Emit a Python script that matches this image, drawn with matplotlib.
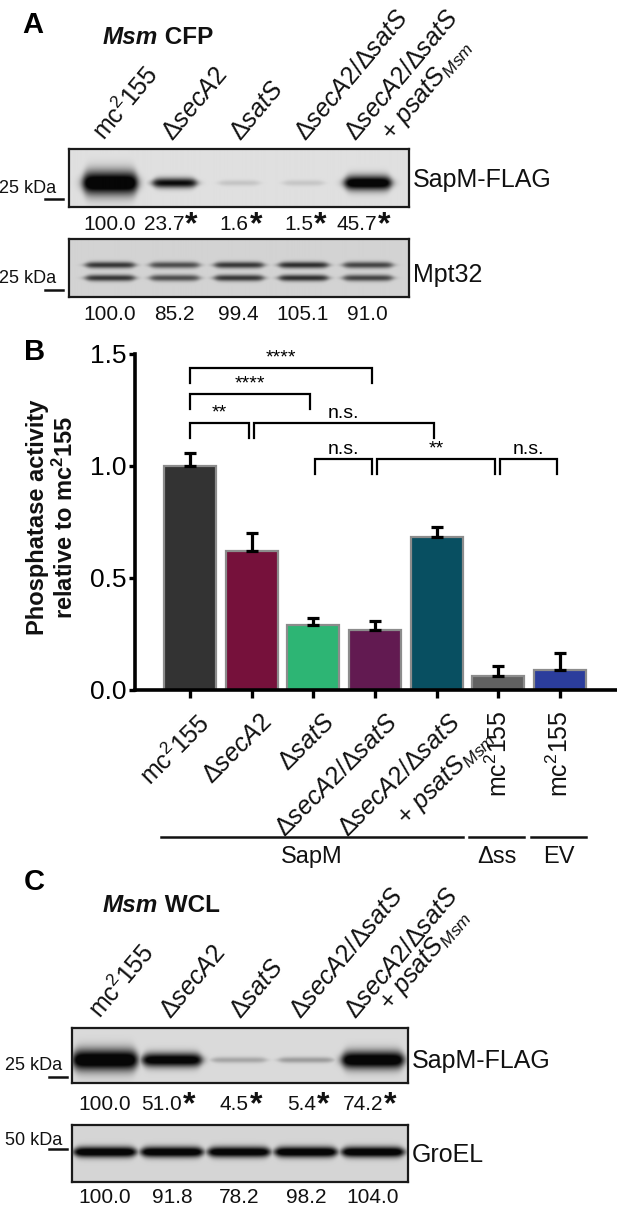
import numpy as np
import matplotlib
matplotlib.use("Agg")
import matplotlib.pyplot as plt
from matplotlib.lines import Line2D
from matplotlib.colors import LinearSegmentedColormap

plt.rcParams['font.family'] = ['Liberation Sans', 'DejaVu Sans']
plt.rcParams['mathtext.fontset'] = 'custom'
plt.rcParams['mathtext.rm'] = 'Liberation Sans'
plt.rcParams['mathtext.it'] = 'Liberation Sans:italic'
plt.rcParams['mathtext.bf'] = 'Liberation Sans:bold'

# ---------------- data ----------------
strain_labels = [r"mc$^{2}$155", r"$\Delta\mathit{secA2}$", r"$\Delta\mathit{satS}$",
                 r"$\Delta\mathit{secA2/}\Delta\mathit{satS}$", r"$\Delta\mathit{secA2/}\Delta\mathit{satS}$"]
complement_label = r"+ $\mathit{psatS}_{\mathit{Msm}}$"

cfp_sapm = [100.0, 23.7, 1.6, 1.5, 45.7]
cfp_sapm_sig = [False, True, True, True, True]
cfp_mpt32 = [100.0, 85.2, 99.4, 105.1, 91.0]
wcl_sapm = [100.0, 51.0, 4.5, 5.4, 74.2]
wcl_sapm_sig = [False, True, True, True, True]
wcl_groel = [100.0, 91.8, 78.2, 98.2, 104.0]

activity_labels = strain_labels + [r"mc$^{2}$155", r"mc$^{2}$155"]
activity_mean = [1.0, 0.622, 0.29, 0.268, 0.684, 0.062, 0.089]
activity_sem = [0.059, 0.080, 0.030, 0.041, 0.045, 0.045, 0.077]
activity_colors = ['#333333', '#76113B', '#2DB574', '#621A51', '#084F61', '#616161', '#2B3D9C']
groups = [('SapM', 0, 4), ('\u0394ss', 5, 5), ('EV', 6, 6)]
comparisons = [(0, 3, '****'), (0, 2, '****'), (0, 1, '**'), (1, 4, 'n.s.'),
               (2, 3, 'n.s.'), (3, 5, '**'), (5, 6, 'n.s.')]

# ---------------- layout helpers ----------------
W, H = 617, 1209
fig = plt.figure(figsize=(W / 100, H / 100), dpi=100)
PT = 0.72  # points per pixel


def T(x, y, s, **kw):
    return fig.text(x / W, 1 - y / H, s, **kw)


def hline(x0, x1, y, lw=1.6):
    fig.add_artist(Line2D([x0 / W, x1 / W], [1 - y / H, 1 - y / H], color='#111111',
                          lw=lw, transform=fig.transFigure))


def add_ax(x0, y0, x1, y1):
    return fig.add_axes([x0 / W, 1 - y1 / H, (x1 - x0) / W, (y1 - y0) / H])


def draw_blot(box, lane0, spacing, band_list, bg):
    x0, y0, x1, y1 = box
    ax = add_ax(x0, y0, x1, y1)
    xl = ((x0 - lane0) / spacing, (x1 - lane0) / spacing)
    hpx = y1 - y0
    nx, ny = int((x1 - x0) * 3), int(hpx * 3)
    X, Y = np.meshgrid(np.linspace(xl[0], xl[1], nx), np.linspace(0, hpx, ny))
    D = np.zeros_like(X)
    for lane, ypos, thick, halfw, peak in band_list:
        xprof = 1 / (1 + np.exp((np.abs(X - lane) - halfw) / 0.035))
        t = thick * (0.55 + 0.45 * xprof)
        yprof = np.exp(-0.5 * ((Y - ypos) / (t / 2.355)) ** 2)
        D = np.maximum(D, peak * xprof * yprof)
    D = np.clip(D * 1.25, 0, 1)
    cmap = LinearSegmentedColormap.from_list('blot', [bg, '#060606'])
    ax.imshow(D, cmap=cmap, vmin=0, vmax=1, origin='lower', aspect='auto',
              extent=[xl[0], xl[1], 0, hpx], interpolation='bilinear')
    ax.set_xlim(*xl)
    ax.set_ylim(0, hpx)
    ax.set_xticks([])
    ax.set_yticks([])
    for s in ax.spines.values():
        s.set_linewidth(1.6)
        s.set_color('#1a1a1a')
    return ax


def sapm_bands(vals, ypos, tmax, hw0, hwk, k):
    out = []
    for i, v in enumerate(vals):
        t = max(5.0, tmax * (v / 100.0) ** 0.6)
        out.append((i, ypos, t, hw0 + hwk * min(v, 100) / 100.0, 1 - np.exp(-v / k)))
    return out


def number_row(lanes, vals, sig, base_y, fs=15):
    for x, v, s in zip(lanes, vals, sig):
        if s:
            T(x + 10, base_y, f"{v:.1f}", fontsize=fs, ha='right', va='baseline', color='#111111')
            T(x + 11, base_y + 3, '*', fontsize=23, fontweight='bold',
              ha='left', va='baseline', color='#111111')
        else:
            T(x, base_y, f"{v:.1f}", fontsize=fs, ha='center', va='baseline', color='#111111')


def lane_labels(anchors, second_anchor, base_y, second_y, fs=18, rot=50):
    for x, lab in zip(anchors, strain_labels):
        T(x, base_y, lab, fontsize=fs, rotation=rot, rotation_mode='anchor',
          ha='left', va='baseline', color='#111111')
    T(second_anchor, second_y, complement_label, fontsize=fs, rotation=rot,
      rotation_mode='anchor', ha='left', va='baseline', color='#111111')


def title(x, y, italic, rest):
    t1 = T(x, y, italic, fontsize=17.5, fontweight='bold', style='italic', va='bottom', color='#111111')
    fig.add_artist(plt.Annotation(rest, xy=(1, 0), xycoords=t1, fontsize=17.5, fontweight='bold',
                                  va='bottom', ha='left', color='#111111'))


# ================= Panel A =================
T(22, 33, 'A', fontsize=21, fontweight='bold', va='baseline')
title(103, 49, 'Msm', ' CFP')
laneA0, spA = 110, 64.3
lanesA = [laneA0 + spA * i for i in range(5)]
lane_labels([104, 172, 240, 305, 355], 392, 142, 142)

draw_blot((69, 149, 409, 207), laneA0, spA,
          sapm_bands(cfp_sapm, 24, 20, 0.31, 0.11, 15), '#E0E0E0')
mpt = []
for i, v in enumerate(cfp_mpt32):
    pk = 0.62 * min(v / 100.0, 1.05)
    mpt.append((i, 32, 5.5, 0.38, pk))
    mpt.append((i, 19, 5.5, 0.38, pk))
draw_blot((69, 239, 409, 297), laneA0, spA, mpt, '#D3D3D3')

T(413, 187, 'SapM-FLAG', fontsize=18, va='baseline', color='#111111')
T(413, 282, 'Mpt32', fontsize=18, va='baseline', color='#111111')
T(56, 193, '25 kDa', fontsize=13, ha='right', va='baseline', color='#111111')
T(56, 283, '25 kDa', fontsize=13, ha='right', va='baseline', color='#111111')
hline(45, 63, 199, 1.8)
hline(45, 63, 290, 1.8)
number_row(lanesA, cfp_sapm, cfp_sapm_sig, 230)
number_row(lanesA, cfp_mpt32, [False] * 5, 320)

# ================= Panel B =================
T(24, 360, 'B', fontsize=21, fontweight='bold', va='baseline')
axB = add_ax(134.5, 354, 617, 690)
xb = np.arange(len(activity_mean))
axB.bar(xb, activity_mean, width=0.84, color=activity_colors, edgecolor='#8c8c8c',
        linewidth=1.6, zorder=2)
axB.errorbar(xb, activity_mean, yerr=[np.zeros(len(xb)), activity_sem], fmt='none',
             ecolor='black', elinewidth=2.3, capsize=4, capthick=2.3, zorder=3)
axB.set_xlim(-0.9, 6.924)
axB.set_ylim(0, 1.5)
axB.set_yticks([0, 0.5, 1.0, 1.5])
axB.set_yticklabels(['0.0', '0.5', '1.0', '1.5'], fontsize=19)
axB.set_xticks(xb)
axB.set_xticklabels([''] * len(xb))
axB.tick_params(axis='y', length=4, width=2.4, pad=1.5, direction='out')
axB.tick_params(axis='x', length=5.5, width=2.4, direction='out')
for s in ['top', 'right']:
    axB.spines[s].set_visible(False)
for s in ['left', 'bottom']:
    axB.spines[s].set_linewidth(2.6)
axB.patch.set_alpha(0)

bracket_tops = [1.436, 1.32, 1.19, 1.19, 1.03, 1.03, 1.03]
leg = 0.066
for (i, j, lab), top in zip(comparisons, bracket_tops):
    a = i + (0.03 if i > 0 else 0.0)
    b = j - 0.05
    axB.plot([a, a, b, b], [top - leg, top, top, top - leg], color='black', lw=1.6,
             solid_joinstyle='miter', clip_on=False, zorder=4)
    axB.text((a + b) / 2, top + 0.045, lab, fontsize=14, ha='center', va='center', clip_on=False)

fig.text(52 / W, 1 - 517 / H, "Phosphatase activity\nrelative to mc$^{\\mathbf{2}}$155",
         rotation=90, ha='center', va='center', fontsize=17, fontweight='bold',
         linespacing=1.2, color='#111111')

xoffs = [7, 8, 9, 10, 12]
for i in range(5):
    axB.annotate(activity_labels[i], xy=(i, 0), xycoords=('data', 'axes fraction'),
                 xytext=(xoffs[i] * PT, -20 * PT), textcoords='offset points', rotation=45,
                 rotation_mode='anchor', ha='right', va='top', fontsize=18, color='#111111')
axB.annotate(complement_label, xy=(4, 0), xycoords=('data', 'axes fraction'),
             xytext=(43 * PT, -34 * PT), textcoords='offset points', rotation=45,
             rotation_mode='anchor', ha='right', va='top', fontsize=18, color='#111111')
for i in range(5, 7):
    axB.annotate(activity_labels[i], xy=(i, 0), xycoords=('data', 'axes fraction'),
                 xytext=(0, -20 * PT), textcoords='offset points', rotation=90,
                 rotation_mode='anchor', ha='right', va='center', fontsize=18, color='#111111')

for lab, i, j in groups:
    ya = (690 - 837) / 336.0
    axB.plot([i - 0.47, j + 0.42], [ya, ya], color='#111111', lw=1.8,
             transform=axB.get_xaxis_transform(), clip_on=False)
    axB.text((i + j) / 2 - 0.02, (690 - 857) / 336.0, lab, fontsize=17, ha='center', va='center',
             transform=axB.get_xaxis_transform(), color='#111111')

# ================= Panel C =================
T(24, 890, 'C', fontsize=21, fontweight='bold', va='baseline')
title(103, 917, 'Msm', ' WCL')
laneC0, spC = 105, 67.0
lanesC = [laneC0 + spC * i for i in range(5)]
lane_labels([100, 170, 240, 300, 355], 390, 1020, 1012)

draw_blot((72, 1028, 408, 1083), laneC0, spC,
          sapm_bands(wcl_sapm, 23, 18, 0.40, 0.08, 20), '#DADADA')
gro = [(i, 30, 9, 0.46, 1 - np.exp(-v / 25.0)) for i, v in enumerate(wcl_groel)]
draw_blot((72, 1125, 408, 1182), laneC0, spC, gro, '#D5D5D5')

T(412, 1068, 'SapM-FLAG', fontsize=18, va='baseline', color='#111111')
T(412, 1162, 'GroEL', fontsize=18, va='baseline', color='#111111')
T(62, 1070, '25 kDa', fontsize=13, ha='right', va='baseline', color='#111111')
T(62, 1145, '50 kDa', fontsize=13, ha='right', va='baseline', color='#111111')
hline(49, 67, 1077, 1.8)
hline(49, 67, 1149, 1.8)
number_row(lanesC, wcl_sapm, wcl_sapm_sig, 1110)
number_row(lanesC, wcl_groel, [False] * 5, 1203)

fig.savefig('out.png', dpi=100)
